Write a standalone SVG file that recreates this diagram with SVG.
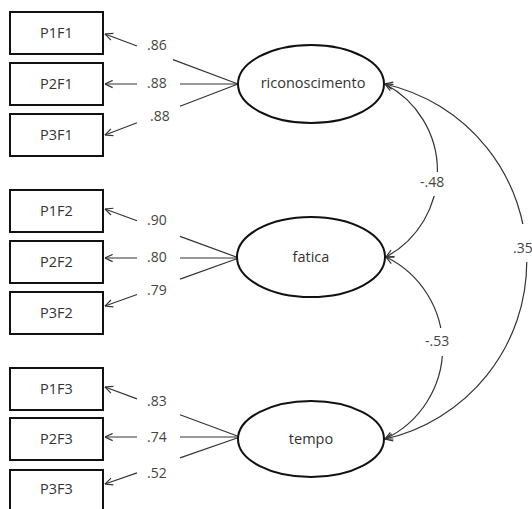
<svg xmlns="http://www.w3.org/2000/svg" width="532" height="509" viewBox="0 0 532 509">
<style>
.box{fill:#fff;stroke:#111;stroke-width:2}
.lat{fill:#fff;stroke:#111;stroke-width:2}
.t{font-family:"Open Sans","Liberation Sans",sans-serif;font-size:14.5px;fill:#333;text-anchor:middle}
.lbl{font-family:"Open Sans","Liberation Sans",sans-serif;font-size:14px;fill:#444}
.c{fill:none;stroke:#333;stroke-width:1.2}
.bg{fill:#fff}
</style>
<defs>
<marker id="ah" viewBox="0 0 10 10" refX="9.5" refY="5" markerWidth="9" markerHeight="9" markerUnits="userSpaceOnUse" orient="auto-start-reverse">
<path d="M1,1 L9.5,5 L1,9" fill="none" stroke="#333" stroke-width="1.3"/>
</marker>
</defs>
<rect width="532" height="509" fill="#fff"/>
<g id="connectors">
<path class="c" d="M238,84 L173,59.6 M137,46 L105,34" marker-end="url(#ah)"/>
<path class="c" d="M238,84 L180,84 M137,84 L105,84" marker-end="url(#ah)"/>
<path class="c" d="M238,84 L180,106.2 M137,122.7 L105,135" marker-end="url(#ah)"/>
<path class="c" d="M239,258 L180,236.4 M137,220.7 L105,209" marker-end="url(#ah)"/>
<path class="c" d="M239,258 L180,258 M137,258 L105,258" marker-end="url(#ah)"/>
<path class="c" d="M239,258 L180,279.1 M137,294.5 L105,306" marker-end="url(#ah)"/>
<path class="c" d="M240,437 L180,414.8 M137,398.9 L105,387" marker-end="url(#ah)"/>
<path class="c" d="M240,437 L180,437 M137,437 L105,437" marker-end="url(#ah)"/>
<path class="c" d="M240,437 L180,457.9 M137,472.9 L105,484" marker-end="url(#ah)"/>
<path class="c" d="M385,84 A98,98 0 0 1 386,257" marker-start="url(#ah)" marker-end="url(#ah)"/>
<path class="c" d="M386,257 A101,101 0 0 1 385,439" marker-start="url(#ah)" marker-end="url(#ah)"/>
<path class="c" d="M385,84 A182,182 0 0 1 385,439" marker-start="url(#ah)" marker-end="url(#ah)"/>
<rect class="bg" x="420" y="172" width="28" height="24"/>
<rect class="bg" x="424" y="328" width="33" height="28"/>
<rect class="bg" x="506" y="224" width="26" height="38"/>
<text class="lbl" x="147" y="50">.86</text>
<text class="lbl" x="147" y="88">.88</text>
<text class="lbl" x="150" y="121">.88</text>
<text class="lbl" x="147" y="225">.90</text>
<text class="lbl" x="147" y="262">.80</text>
<text class="lbl" x="147" y="295">.79</text>
<text class="lbl" x="147" y="406">.83</text>
<text class="lbl" x="147" y="442">.74</text>
<text class="lbl" x="147" y="478">.52</text>
<text class="lbl" x="420" y="187">-.48</text>
<text class="lbl" x="425" y="346">-.53</text>
<text class="lbl" x="513" y="253">.35</text>
</g>
<g id="P1F1"><rect class="box" x="10" y="12" width="93" height="42"/><text class="t" x="56.5" y="38">P1F1</text></g>
<g id="P2F1"><rect class="box" x="10" y="63" width="93" height="42"/><text class="t" x="56.5" y="89">P2F1</text></g>
<g id="P3F1"><rect class="box" x="10" y="114" width="93" height="42"/><text class="t" x="56.5" y="140">P3F1</text></g>
<g id="P1F2"><rect class="box" x="10" y="190" width="93" height="42"/><text class="t" x="56.5" y="216">P1F2</text></g>
<g id="P2F2"><rect class="box" x="10" y="241" width="93" height="42"/><text class="t" x="56.5" y="267">P2F2</text></g>
<g id="P3F2"><rect class="box" x="10" y="292" width="93" height="42"/><text class="t" x="56.5" y="318">P3F2</text></g>
<g id="P1F3"><rect class="box" x="10" y="368" width="93" height="42"/><text class="t" x="56.5" y="394">P1F3</text></g>
<g id="P2F3"><rect class="box" x="10" y="418" width="93" height="42"/><text class="t" x="56.5" y="444">P2F3</text></g>
<g id="P3F3"><rect class="box" x="10" y="470" width="93" height="42"/><text class="t" x="56.5" y="494">P3F3</text></g>
<g id="riconoscimento"><ellipse class="lat" cx="311" cy="84" rx="73" ry="39"/><text class="t" x="313" y="88">riconoscimento</text></g>
<g id="fatica"><ellipse class="lat" cx="311" cy="257" rx="74" ry="40"/><text class="t" x="311" y="262">fatica</text></g>
<g id="tempo"><ellipse class="lat" cx="311" cy="439" rx="73" ry="38"/><text class="t" x="311" y="444">tempo</text></g>
</svg>
